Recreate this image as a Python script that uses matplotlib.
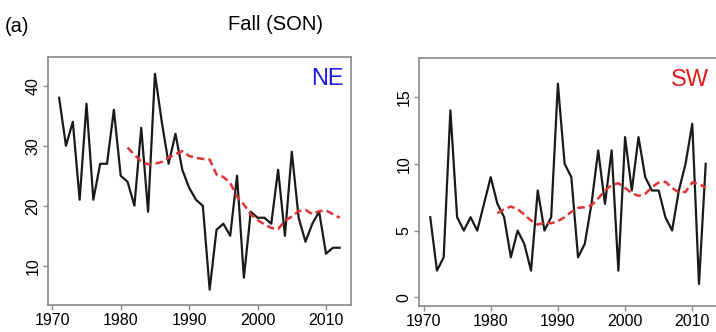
"""Fall (SON) counts for the NE and SW regions, with smoothed trend."""
from __future__ import annotations

import matplotlib

matplotlib.use("Agg")
import matplotlib.pyplot as plt
import numpy as np

plt.rcParams["font.family"] = ["Liberation Sans", "DejaVu Sans"]

YEARS = np.arange(1971, 2013)
SMOOTH_YEARS = np.arange(1981, 2013)

NE_COUNTS = [38, 30, 34, 21, 37, 21, 27, 27, 36, 25, 24, 20, 33, 19, 42, 34,
             27, 32, 26, 23, 21, 20, 6, 16, 17, 15, 25, 8, 19, 18, 18, 17,
             26, 15, 29, 18, 14, 17, 19, 12, 13, 13]
NE_SMOOTH = [29.7, 28.5, 27.4, 26.9, 27.0, 27.3, 28.0, 28.6, 29.1, 28.3, 28.0,
             27.8, 27.7, 25.2, 24.8, 23.8, 21.5, 20.2, 18.6, 17.6, 16.9, 16.3,
             16.1, 17.5, 18.2, 19.1, 19.3, 18.6, 19.1, 19.2, 18.6, 18.0]

SW_COUNTS = [6, 2, 3, 14, 6, 5, 6, 5, 7, 9, 7, 6, 3, 5, 4, 2, 8, 5, 6, 16,
             10, 9, 3, 4, 7, 11, 7, 11, 2, 12, 8, 12, 9, 8, 8, 6, 5, 8, 10,
             13, 1, 10]
SW_SMOOTH = [6.3, 6.6, 6.8, 6.6, 6.2, 5.75, 5.45, 5.6, 5.55, 5.7, 6.0, 6.4,
             6.7, 6.75, 6.9, 7.4, 8.0, 8.4, 8.55, 8.2, 7.8, 7.6, 7.75, 8.25,
             8.6, 8.65, 8.2, 7.85, 7.9, 8.6, 8.5, 8.2]

X_TICKS = [1970, 1980, 1990, 2000, 2010]
NE_YTICKS = [10, 20, 30, 40]
SW_YTICKS = [0, 5, 10, 15]

FRAME = "#8a8a8a"
TREND = "#dd3535"


def panel(ax, counts, smooth, yticks, ylim, label, label_color):
    ax.plot(YEARS, counts, color="#1a1a1a", lw=1.6)
    ax.plot(SMOOTH_YEARS, smooth, color=TREND, lw=1.8, ls=(0, (3, 1.6)))
    ax.set_xlim(1969.37, 2013.65)
    ax.set_ylim(*ylim)
    ax.set_xticks(X_TICKS)
    ax.set_yticks(yticks)
    ax.set_yticklabels([str(t) for t in yticks], rotation=90, va="center")
    ax.tick_params(length=3.5, width=1.0, color=FRAME, labelsize=11.5, pad=2)
    for s in ax.spines.values():
        s.set_color(FRAME)
        s.set_linewidth(1.2)
    ax.text(0.975, 0.955, label, transform=ax.transAxes, ha="right", va="top",
            fontsize=17, color=label_color)


def main() -> None:
    fig = plt.figure(figsize=(7.16, 3.32), dpi=100)
    ax_ne = fig.add_axes([0.0670, 0.0813, 0.4232, 0.747])
    ax_sw = fig.add_axes([0.5856, 0.0783, 0.4155, 0.746])

    panel(ax_ne, NE_COUNTS, NE_SMOOTH, NE_YTICKS, (3.45, 44.8), "NE", "#1a1ae6")
    panel(ax_sw, SW_COUNTS, SW_SMOOTH, SW_YTICKS, (-0.65, 17.9), "SW", "#e61a1a")

    fig.text(0.385, 0.925, "Fall (SON)", ha="center", va="center", fontsize=14.5)
    fig.text(0.007, 0.92, "(a)", ha="left", va="center", fontsize=14.5)

    fig.savefig("out.png", dpi=100)
    plt.close(fig)


if __name__ == "__main__":
    main()
